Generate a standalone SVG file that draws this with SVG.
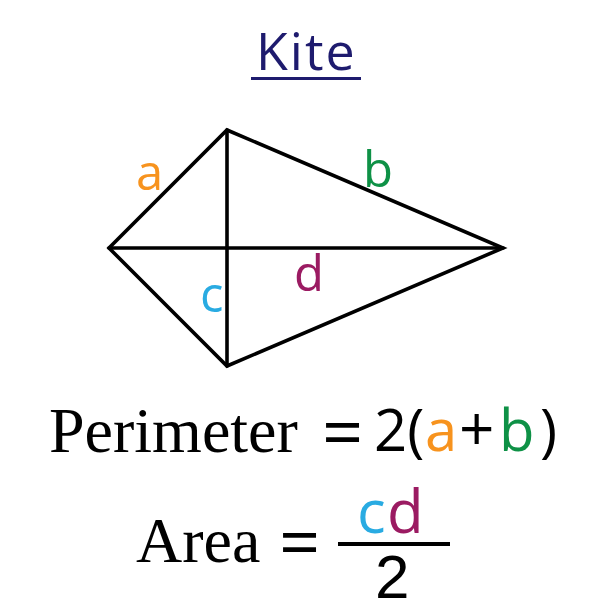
<svg xmlns="http://www.w3.org/2000/svg" width="612" height="612" viewBox="0 0 612 612">
<style>
.sans{font-family:"Open Sans","DejaVu Sans",sans-serif}
.serif{font-family:"Liberation Serif","Times New Roman",serif}
.edge{stroke:#000;stroke-width:3.6;fill:none;stroke-linejoin:miter;stroke-linecap:round}
.oa{fill:#f7931e}.gb{fill:#0e9146}.bc{fill:#29abe2}.pd{fill:#9b1b62}
</style>
<rect width="612" height="612" fill="#fff"/>
<g id="title">
<text class="sans" x="256" y="70" font-size="52" letter-spacing="2" fill="#1e1b6e">Kite</text>
<rect x="251" y="77" width="110" height="3" fill="#1e1b6e"/>
</g>
<g id="kite">
<polygon class="edge" points="227,130 503,248 227,366 109,248"/>
<line class="edge" x1="227" y1="130" x2="227" y2="366"/>
<line class="edge" x1="109" y1="248" x2="503" y2="248"/>
<text class="sans oa" x="136" y="190" font-size="49">a</text>
<text class="sans gb" x="363" y="187" font-size="49">b</text>
<text class="sans bc" x="200" y="312" font-size="49">c</text>
<text class="sans pd" x="294" y="291" font-size="49">d</text>
</g>
<g id="perimeter">
<text class="serif" x="49" y="452" font-size="64">Perimeter</text>
<text class="sans" x="322" y="458" font-size="72">=</text>
<text class="sans" font-size="58" y="451"><tspan x="374">2(</tspan><tspan x="425" class="oa">a</tspan><tspan x="459" font-size="62">+</tspan><tspan x="499" class="gb">b</tspan><tspan x="540">)</tspan></text>
</g>
<g id="area">
<text class="serif" x="136" y="562" font-size="64">Area</text>
<text class="sans" x="279" y="568" font-size="72">=</text>
<text class="sans" y="533" font-size="60"><tspan x="357" class="bc">c</tspan><tspan x="387" class="pd">d</tspan></text>
<rect x="338" y="542" width="112" height="4" fill="#000"/>
<text x="375" y="598" font-size="62" font-family="'Liberation Sans',Arial,sans-serif">2</text>
</g>
</svg>
